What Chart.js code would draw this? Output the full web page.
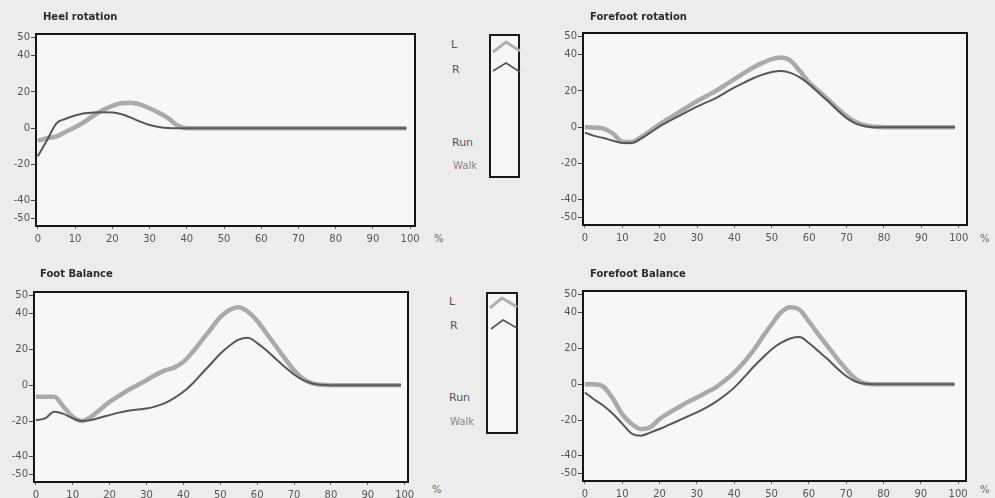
<!DOCTYPE html>
<html>
<head>
<meta charset="utf-8">
<script src="https://cdn.jsdelivr.net/npm/chart.js@4/dist/chart.umd.min.js"></script>
<style>
  html, body { margin:0; padding:0; }
  body { width:995px; height:498px; background:#ececec; position:relative; overflow:hidden; font-family:"DejaVu Sans", Verdana, sans-serif; }
  canvas { position:absolute; }
  .title { position:absolute; font-size:10px; font-weight:bold; color:#2a2a2a; white-space:nowrap; }
  .lbl { position:absolute; font-size:11px; color:#555; white-space:nowrap; }
  .pct { position:absolute; font-size:10px; color:#666; }
  .legbox { position:absolute; border:2px solid #1a1a1a; background:#f6f6f6; box-sizing:border-box; }
  .legbox svg { position:absolute; left:0; top:0; }
</style>
</head>
<body>
<canvas id="c1" width="430" height="250" style="left:0px;top:0px"></canvas>
<canvas id="c2" width="440" height="250" style="left:545px;top:0px"></canvas>
<canvas id="c3" width="430" height="248" style="left:0px;top:250px"></canvas>
<canvas id="c4" width="440" height="248" style="left:545px;top:250px"></canvas>

<div class="title" style="left:43px;top:11px">Heel rotation</div>
<div class="title" style="left:590px;top:11px">Forefoot rotation</div>
<div class="title" style="left:40px;top:268px">Foot Balance</div>
<div class="title" style="left:590px;top:268px">Forefoot Balance</div>

<div class="pct" style="left:434px;top:233px">%</div>
<div class="pct" style="left:980px;top:233px">%</div>
<div class="pct" style="left:432px;top:484px">%</div>
<div class="pct" style="left:980px;top:484px">%</div>

<div class="legbox" style="left:489px;top:34px;width:31px;height:144px">
  <svg width="31" height="144"><polyline points="2,16 15,6 29,15" fill="none" stroke="#b0b0b0" stroke-width="3"/><polyline points="2,35 15,27 29,36" fill="none" stroke="#555" stroke-width="1.6"/></svg>
</div>
<div class="lbl" style="left:451px;top:38px">L</div>
<div class="lbl" style="left:452px;top:63px">R</div>
<div class="lbl" style="left:452px;top:136px">Run</div>
<div class="lbl" style="left:453px;top:160px;font-size:10px;color:#888">Walk</div>

<div class="legbox" style="left:486px;top:292px;width:32px;height:142px">
  <svg width="32" height="142"><polyline points="2,14 14,4 29,13" fill="none" stroke="#b0b0b0" stroke-width="3"/><polyline points="3,35 15,26 29,34" fill="none" stroke="#555" stroke-width="1.6"/></svg>
</div>
<div class="lbl" style="left:449px;top:295px">L</div>
<div class="lbl" style="left:450px;top:319px">R</div>
<div class="lbl" style="left:449px;top:391px">Run</div>
<div class="lbl" style="left:450px;top:416px;font-size:10px;color:#888">Walk</div>

<script>
// ---- data ----
const xPct = [0, 2.5, 5, 7.5, 10, 12.5, 15, 17.5, 20, 22.5, 25, 27.5, 30, 32.5, 35, 37.5, 40, 42.5, 45, 47.5, 50, 52.5, 55, 57.5, 60, 62.5, 65, 67.5, 70, 72.5, 75, 77.5, 80, 90, 99];

const heelL = [-7, -5.5, -4.5, -2, 0.5, 3.5, 7, 10, 12.3, 13.8, 14, 13, 11, 8.5, 5.5, 1.5, 0, 0, 0, 0, 0, 0, 0, 0, 0, 0, 0, 0, 0, 0, 0, 0, 0, 0, 0];
const heelR = [-15.5, -6.5, 2.7, 5.2, 7, 8.2, 8.7, 8.8, 8.7, 7.7, 5.8, 3.6, 1.8, 0.7, 0.1, 0, 0, 0, 0, 0, 0, 0, 0, 0, 0, 0, 0, 0, 0, 0, 0, 0, 0, 0, 0];

const ffRotL = [0, -0.3, -0.8, -3.5, -8, -8.2, -5.5, -2, 1.5, 4.8, 8, 11.2, 14.4, 17.2, 20, 23.2, 26.5, 29.8, 33, 35.5, 37.6, 38.5, 36.7, 31, 24.5, 20, 15.4, 10.5, 6, 2.8, 1, 0.2, 0, 0, 0];
const ffRotR = [-3, -4.8, -6, -7.5, -8.7, -8.7, -6.3, -3, 0.5, 3.3, 6, 8.7, 11.3, 13.7, 16, 19, 22, 24.5, 27, 29, 30.5, 31, 30, 27.5, 23.7, 19, 14.4, 9.5, 5, 2, 0.5, 0, 0, 0, 0];

const footBalL = [-6.5, -6.5, -6.5, -12, -17.6, -20, -17.6, -13.5, -9.3, -6, -2.8, 0, 2.8, 5.8, 8.3, 9.8, 13, 18.5, 25, 31.5, 38, 42, 43.5, 41, 36, 29, 22, 15, 8.3, 3.5, 1, 0.2, 0, 0, 0];
const footBalR = [-19.5, -18.5, -14.8, -16, -18.5, -20, -19.4, -18, -16.7, -15.3, -14.3, -13.6, -13, -11.8, -10, -7.2, -3.7, 1, 6.5, 12, 17.6, 22, 25.4, 26.5, 23.5, 19.5, 14.8, 10.2, 6, 2.8, 1, 0.2, 0, 0, 0];

const ffBalL = [0, 0, -1.5, -8, -16.7, -22, -25, -24, -19.4, -16, -13, -10, -7.4, -4.6, -1.9, 2, 6.5, 12, 18.5, 26, 33.3, 40, 43, 41.5, 35, 28, 21.3, 14.5, 8.3, 3, 0.4, 0, 0, 0, 0];
const ffBalR = [-4.6, -8.5, -12, -16.5, -22, -27.5, -28.7, -27, -25, -22.7, -20.4, -18, -15.7, -13, -10, -6.2, -1.9, 3.5, 9.3, 14.5, 19.4, 23, 25.5, 26.3, 23, 18.5, 14, 9, 4.6, 1.5, 0.2, 0, 0, 0, 0];

const yTickValues = [-50, -40, -20, 0, 20, 40, 50];
const xTickValues = [0, 10, 20, 30, 40, 50, 60, 70, 80, 90, 100];

// ---- drawing ----
const frame = {
  id: 'frame',
  beforeDraw(chart) {
    const a = chart.chartArea, ctx = chart.ctx;
    ctx.save(); ctx.fillStyle = '#f7f7f7';
    ctx.fillRect(a.left, a.top, a.right - a.left, a.bottom - a.top);
    ctx.restore();
  },
  afterDraw(chart) {
    const a = chart.chartArea, ctx = chart.ctx;
    ctx.save(); ctx.strokeStyle = '#151515'; ctx.lineWidth = 2;
    ctx.strokeRect(a.left, a.top, a.right - a.left, a.bottom - a.top);
    ctx.restore();
  }
};

function pts(arr) { return xPct.map((x, i) => ({ x: x, y: arr[i] })); }

function makeChart(id, canvasLeft, canvasTop, canvasW, canvasH, plot, xMax, L, R) {
  new Chart(document.getElementById(id), {
    type: 'line',
    data: {
      datasets: [
        { label: 'R', data: pts(R), borderColor: '#575757', borderWidth: 2, pointRadius: 0, tension: 0.4, cubicInterpolationMode: 'monotone', order: 0 },
        { label: 'L', data: pts(L), borderColor: 'rgba(150,150,150,0.8)', borderWidth: 4.5, pointRadius: 0, tension: 0.4, cubicInterpolationMode: 'monotone', order: 1 }
      ]
    },
    options: {
      responsive: false, animation: false, devicePixelRatio: 1,
      layout: { padding: { top: plot.top - canvasTop, right: canvasLeft + canvasW - plot.right, left: 0, bottom: 0 } },
      plugins: { legend: { display: false }, tooltip: { enabled: false }, title: { display: false } },
      scales: {
        x: {
          type: 'linear', min: -0.5, max: xMax,
          afterBuildTicks: s => { s.ticks = xTickValues.map(v => ({ value: v })); },
          afterFit: s => { s.height = canvasTop + canvasH - plot.bottom; },
          grid: { drawOnChartArea: false, drawTicks: true, tickLength: 3, color: '#666' },
          border: { display: false },
          ticks: { color: '#555', font: { family: 'DejaVu Sans', size: 10 }, padding: 4, maxRotation: 0, autoSkip: false }
        },
        y: {
          type: 'linear', min: -54, max: 52,
          afterBuildTicks: s => { s.ticks = yTickValues.map(v => ({ value: v })); },
          afterFit: s => { s.width = plot.left - canvasLeft; },
          grid: { drawOnChartArea: false, drawTicks: true, tickLength: 5, color: '#444' },
          border: { display: false },
          ticks: { color: '#555', font: { family: 'DejaVu Sans', size: 10 }, padding: 1, autoSkip: false }
        }
      }
    },
    plugins: [frame]
  });
}

makeChart('c1', 0, 0, 430, 250, { left: 36, right: 415, top: 34, bottom: 226 }, 101.3, heelL, heelR);
makeChart('c2', 545, 0, 440, 250, { left: 583, right: 967, top: 33, bottom: 225 }, 102.2, ffRotL, ffRotR);
makeChart('c3', 0, 250, 430, 248, { left: 34, right: 408, top: 292, bottom: 482 }, 100.9, footBalL, footBalR);
makeChart('c4', 545, 250, 440, 248, { left: 583, right: 966, top: 291, bottom: 481 }, 102.1, ffBalL, ffBalR);
</script>
</body>
</html>
